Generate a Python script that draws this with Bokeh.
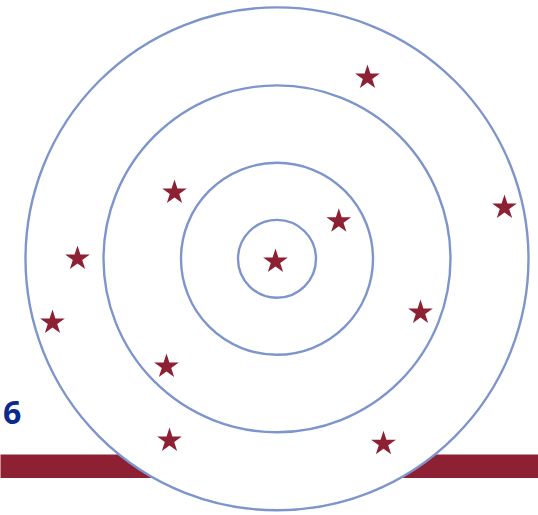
from bokeh.plotting import figure
from bokeh.models import Range1d
from bokeh.core.properties import value
from bokeh.embed import file_html
from bokeh.resources import INLINE

# Ring radii (px-like units, centre at 0,0)
ring_radii = [251.5, 173.5, 96.0, 39.0]

# Star positions relative to the centre
star_x = [-1.5, 61.8, 90.5, -102.5, 227.5, -199.5, -224.5, 143.5, -110.5, -107.5, 106.5]
star_y = [-2.7, 37.6, 181.3, 66.3, 51.3, 0.3, -63.7, -53.7, -107.7, -181.7, -185.0]

# Horizontal band behind the target
band_left = [-300.0]
band_right = [300.0]
band_bottom = [-219.2]
band_top = [-195.7]

# Label
label_text = ["6"]
label_x = [-274.0]
label_y = [-154.0]

W, H = 538, 515
cx, cy = 276.5, 258.3

p = figure(width=W, height=H, output_backend="svg", toolbar_location=None,
           x_range=Range1d(-cx, W - cx), y_range=Range1d(-(H - cy), cy),
           min_border=0, border_fill_color="white", background_fill_color="white")
p.axis.visible = False
p.grid.visible = False
p.outline_line_color = None
p.styles = {"position": "absolute", "left": "0px", "top": "0px"}

p.quad(left=band_left, right=band_right, bottom=band_bottom, top=band_top,
       fill_color="#8E2034", line_color=None)

for r in ring_radii:
    p.circle(x=[0], y=[0], radius=r, fill_color="white", line_color="#7E95CC", line_width=2.4)

p.scatter(x=star_x, y=star_y, marker="star", size=26, fill_color="#8E2034", line_color=None)

p.text(x=label_x, y=label_y, text=label_text, text_font=value("Open Sans"), text_font_style="bold",
       text_font_size=value("32px"), text_color="#0B2A8E", text_baseline="alphabetic", text_align="left",
       text_line_height=1.0)

open("out.html", "w").write(file_html(p, INLINE))
